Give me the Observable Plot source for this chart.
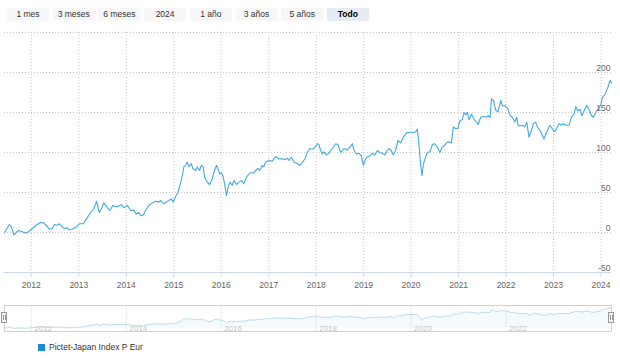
<!DOCTYPE html>
<html>
<head>
<meta charset="utf-8">
<script src="https://cdn.jsdelivr.net/npm/d3@7"></script>
<script src="https://cdn.jsdelivr.net/npm/@observablehq/plot@0.6"></script>
<style>
  html, body { margin: 0; padding: 0; background: #fff; }
  body { width: 620px; height: 359px; overflow: hidden; font-family: "Liberation Sans", Arial, sans-serif; }
  #buttons { position: relative; height: 28px; }
  .btn { position: absolute; top: 8px; width: 42px; height: 13px; line-height: 13px; background: #f7f7f7; color: #333; font-size: 8.5px; text-align: center; }
  .btn.sel { background: #e6ebf5; color: #000; font-weight: bold; }
  #chart svg, #nav svg { display: block; }
  #nav { position: relative; height: 48px; }
  .handle { position: absolute; top: 22px; width: 6px; height: 11px; background: #f2f2f2; border: 1px solid #999; box-sizing: border-box; }
  .handle::before, .handle::after { content: ""; position: absolute; top: 2px; width: 1px; height: 5px; background: #999; }
  .handle::before { left: 1px; } .handle::after { left: 3px; }
  #legend { height: 21px; position: relative; font-size: 8.5px; color: #333; }
  #legend .sw { position: absolute; left: 38px; top: 6px; width: 7px; height: 7px; background: #1a8ccf; }
  #legend .lb { position: absolute; left: 49px; top: 5px; line-height: 9px; }
</style>
</head>
<body>
<div id="buttons"></div>
<div id="chart"></div>
<div id="nav"></div>
<div id="legend"><span class="sw"></span><span class="lb"></span></div>
<script>
const seriesName = "Pictet-Japan Index P Eur";
const buttonLabels = ["1 mes", "3 meses", "6 meses", "2024", "1 año", "3 años", "5 años", "Todo"];
const selectedButton = "Todo";
const yearTicks = [2012, 2013, 2014, 2015, 2016, 2017, 2018, 2019, 2020, 2021, 2022, 2023, 2024];
const navYears = [2012, 2014, 2016, 2018, 2020, 2022];
const yGrid = [-50, 0, 50, 100, 150, 200, 250];
const yLabels = [-50, 0, 50, 100, 150, 200];

const dates = [
"2011-06-09","2011-07-17","2011-08-01","2011-08-19","2011-09-07","2011-09-27","2011-10-23","2011-11-17","2011-12-12",
"2012-01-08","2012-02-15","2012-03-12","2012-04-06","2012-05-02","2012-05-22","2012-06-10","2012-06-27","2012-07-18","2012-08-07","2012-08-25","2012-09-12","2012-10-03","2012-10-15","2012-11-10","2012-12-13",
"2013-01-07","2013-02-04","2013-03-01","2013-04-01","2013-04-27","2013-05-17","2013-06-07","2013-06-25","2013-07-12","2013-08-04","2013-08-28","2013-09-20","2013-10-10","2013-11-05","2013-11-23","2013-12-13",
"2014-01-09","2014-02-03","2014-02-28","2014-03-19","2014-04-08","2014-04-21","2014-05-12","2014-05-29","2014-06-24","2014-07-20","2014-08-14","2014-09-09","2014-09-22","2014-10-17","2014-11-04","2014-11-24","2014-12-13","2014-12-28",
"2015-01-15","2015-02-02","2015-02-17","2015-03-08","2015-03-20","2015-04-02","2015-04-15","2015-04-27","2015-05-16","2015-05-28","2015-06-18","2015-07-01","2015-07-19","2015-08-01","2015-08-16","2015-08-26","2015-09-16","2015-10-04","2015-10-24","2015-11-11","2015-11-26","2015-12-06","2015-12-22",
"2016-01-02","2016-01-14","2016-01-27","2016-02-11","2016-02-21","2016-03-08","2016-03-26","2016-04-08","2016-04-28","2016-05-16","2016-06-06","2016-06-23","2016-07-14","2016-08-01","2016-08-19","2016-09-08","2016-09-21","2016-10-09","2016-10-24","2016-11-12","2016-11-24","2016-12-07","2016-12-20",
"2017-01-10","2017-01-29","2017-02-10","2017-02-25","2017-03-21","2017-04-16","2017-05-11","2017-05-24","2017-06-06","2017-06-24","2017-07-14","2017-08-09","2017-08-29","2017-09-17","2017-10-07","2017-10-25","2017-11-12","2017-12-03","2017-12-20",
"2018-01-10","2018-01-22","2018-02-04","2018-02-17","2018-03-02","2018-03-20","2018-04-09","2018-05-05","2018-05-31","2018-06-17","2018-07-08","2018-08-03","2018-08-29","2018-09-18","2018-10-06","2018-10-19","2018-11-08","2018-11-26","2018-12-14","2018-12-30",
"2019-01-11","2019-01-24","2019-02-19","2019-03-09","2019-03-27","2019-04-17","2019-05-04","2019-05-25","2019-06-12","2019-07-02","2019-07-15","2019-08-02","2019-08-18","2019-09-04","2019-09-22","2019-10-13","2019-11-02","2019-11-28","2019-12-29",
"2020-01-23","2020-02-05","2020-02-18","2020-03-02","2020-03-15","2020-03-25","2020-04-05","2020-04-22","2020-05-05","2020-05-25","2020-06-13","2020-06-30","2020-07-21","2020-08-10","2020-08-28","2020-09-15","2020-10-06","2020-10-24","2020-11-06","2020-11-21","2020-12-09","2020-12-26",
"2021-01-12","2021-01-30","2021-02-12","2021-02-25","2021-03-10","2021-03-22","2021-04-10","2021-04-30","2021-05-20","2021-05-30","2021-06-20","2021-07-16","2021-08-05","2021-08-15","2021-08-31","2021-09-10","2021-09-26","2021-10-14","2021-10-31","2021-11-21","2021-12-04","2021-12-22",
"2022-01-16","2022-02-01","2022-02-19","2022-03-09","2022-03-24","2022-04-03","2022-04-18","2022-05-07","2022-05-25","2022-06-09","2022-06-27","2022-07-15","2022-07-30","2022-08-17","2022-08-30","2022-09-19","2022-10-08","2022-10-20","2022-11-02","2022-11-20","2022-12-05","2022-12-24",
"2023-01-10","2023-01-31","2023-02-12","2023-03-03","2023-03-18","2023-04-05","2023-04-30","2023-05-19","2023-06-08","2023-06-21","2023-07-09","2023-07-24","2023-08-06","2023-08-24","2023-09-13","2023-10-01","2023-10-20","2023-11-04","2023-11-22","2023-12-09","2023-12-30",
"2024-01-12","2024-01-30","2024-02-20","2024-03-11","2024-03-22"
];
const values = [
0,10,7,-3,0,2.5,1,-1,1,
5,10,12.5,12,7.5,4,5,10,9,11,7,5,6,3.5,4,7,
11,11,17,25,30,39,25,30,37,32,27.5,34,32,33,35,31,
34,27.5,28,23,25,21,22,27.5,34,37,39,38,40,36,38,40,42,38,
45,50,59,71,82,84,88,82,86,80,77.5,82,77.5,84,82,69,63,60,67,77.5,84,80,73,
75,71,61,46,55,63,59,65,60,63,65,61,69,73,75,74,77.5,80,77.5,84,82,88,89,
90,89,92,95,92,92,91,93,90,94,88,86,84,88,92,100,105,104,106,
111,110,102.5,98,101,97,99,105,111,110,100,105,103,107,111,102.5,98,99,96,84,
90,94,96,99,97,102.5,100,99,97,102.5,105,102.5,97,102.5,115,112,119,124.5,125,
125,126,129,109,84,71,86,94,100,101,110,111,107,100,107,109,113,113,112,132,130,130,
140,141,150,147,150,141,148,141,138,135,144,145,144,146,144,167,165,152.5,151,165,158,159,
154,146,144,138,144,134,133,134,132,138,119,127.5,136,138,132,127.5,121,117,123,129,134,129,
126,132,136,134,136,134,134,144,148,157,152,154,146,152,159,154,146,144,150,154,159,
169,172,180,190,187
];

const data = dates.map((d, i) => ({date: new Date(d), value: values[i]}));
const yearDates = yearTicks.map(y => new Date(Date.UTC(y, 0, 1)));
const navYearDates = navYears.map(y => new Date(Date.UTC(y, 0, 1)));
const xDomain = d3.extent(data, d => d.date);
const lineColor = "#44a9e0";
const font = "'Liberation Sans', Arial, sans-serif";

// Range selector buttons
const bwrap = document.getElementById("buttons");
buttonLabels.forEach((t, i) => {
  const b = document.createElement("div");
  b.className = "btn" + (t === selectedButton ? " sel" : "");
  b.style.left = (7 + i * 45.7) + "px";
  b.textContent = t;
  bwrap.appendChild(b);
});

// Main chart
const main = Plot.plot({
  width: 620, height: 262,
  marginTop: 4, marginBottom: 18, marginLeft: 4, marginRight: 9,
  x: {type: "utc", domain: xDomain, label: null, axis: null},
  y: {domain: [-50, 250], label: null, axis: null},
  style: {fontFamily: font, fontSize: "8.5px", background: "transparent", overflow: "visible"},
  marks: [
    Plot.gridX(yearDates, {stroke: "#c8c8c8", strokeOpacity: 1, strokeDasharray: "1,2"}),
    Plot.gridY(yGrid, {stroke: "#c8c8c8", strokeOpacity: 1, strokeDasharray: "1,2"}),
    Plot.ruleY([-50], {stroke: "#ccd6eb"}),
    Plot.axisX(yearDates, {tickSize: 5, tickPadding: 4, stroke: "#ccd6eb", fill: "#666", tickFormat: d3.utcFormat("%Y"), label: null}),
    Plot.line(data, {x: "date", y: "value", stroke: lineColor, strokeWidth: 1.1}),
    Plot.text(yLabels, {y: d => d, text: d => String(d), frameAnchor: "right", textAnchor: "end", dx: -1, dy: -4, fill: "#666"})
  ]
});
document.getElementById("chart").appendChild(main);

// Navigator
const nav = Plot.plot({
  width: 620, height: 48,
  marginTop: 15, marginBottom: 7, marginLeft: 4, marginRight: 9,
  x: {type: "utc", domain: xDomain, axis: null, label: null},
  y: {domain: d3.extent(values), axis: null, label: null, insetTop: 2, insetBottom: 3},
  style: {fontFamily: font, fontSize: "8px", background: "transparent"},
  marks: [
    Plot.gridX(navYearDates, {stroke: "#ececec", strokeOpacity: 1}),
    Plot.text(navYearDates, {x: d => d, text: d => d3.utcFormat("%Y")(d), frameAnchor: "bottom", lineAnchor: "bottom", textAnchor: "start", dx: 3, dy: -1, fill: "#c4c4c4"}),
    Plot.areaY(data, {x: "date", y: "value", fill: lineColor, fillOpacity: 0.05}),
    Plot.line(data, {x: "date", y: "value", stroke: "#bcdcf0", strokeWidth: 1}),
    Plot.frame({stroke: "#d0d0d0"})
  ]
});
const navDiv = document.getElementById("nav");
navDiv.appendChild(nav);
["left", "right"].forEach(side => {
  const h = document.createElement("div");
  h.className = "handle";
  h.style.left = (side === "left" ? 1 : 608) + "px";
  navDiv.appendChild(h);
});

document.querySelector("#legend .lb").textContent = seriesName;
</script>
</body>
</html>
